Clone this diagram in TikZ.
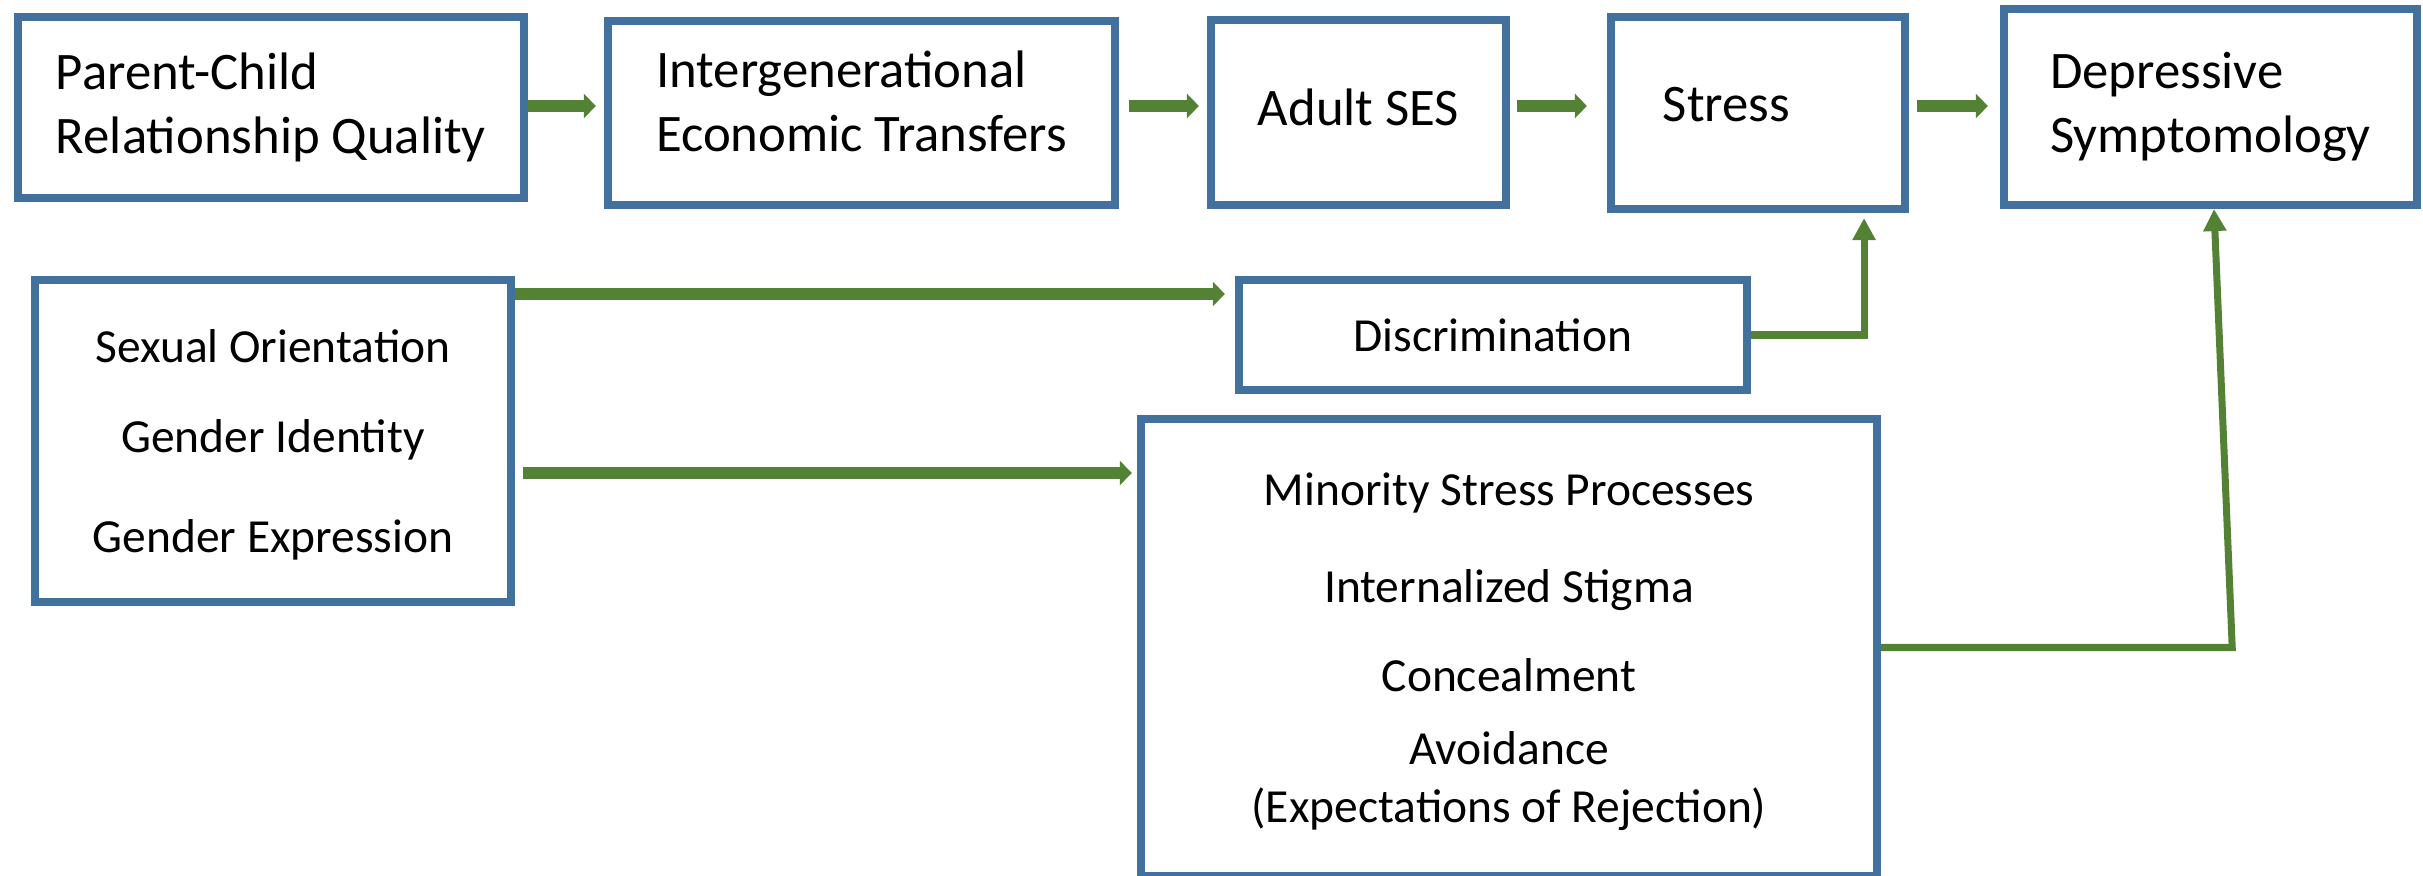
\documentclass[tikz,border=0pt]{standalone}
\usepackage{fontspec}
\setmainfont{Carlito}
\usepackage{tikz}
\usetikzlibrary{arrows.meta}
\definecolor{boxblue}{RGB}{65,113,156}
\definecolor{arrgreen}{RGB}{84,130,53}
\tikzset{
	blk/.style = {draw=boxblue, line width=0.08cm, fill=white, inner sep=3pt},
	blk_top/.style = {blk, align=left, font=\fontsize{15}{18}\selectfont},
	blk_low/.style = {blk, align=center, font=\fontsize{13.5}{16.5}\selectfont},
	arr_main/.style = {draw=arrgreen, line width=0.11cm, -{Triangle[length=0.12cm,width=0.24cm]}},
	arr_side/.style = {draw=arrgreen, line width=0.07cm, -{Triangle[length=0.22cm,width=0.22cm]}}
}

\begin{document}
\begin{tikzpicture}[x=0.01cm, y=-0.01cm]
\useasboundingbox (0,0) rectangle (2423,876);
% top row
\node [blk_top, minimum width=5.06cm, minimum height=1.81cm] (pc) at (271,107.5) {Parent-Child\\Relationship Quality};
\node [blk_top, minimum width=5.07cm, minimum height=1.84cm, text depth=6.8pt] (ie) at (861.5,113) {Intergenerational\\Economic Transfers};
\node [blk_top, minimum width=2.95cm, minimum height=1.85cm, text depth=3pt] (ses) at (1358.5,112.5) {Adult SES};
\node [blk_top, minimum width=2.94cm, minimum height=1.92cm, text width=1.9cm, text depth=5pt] (stress) at (1758,113) {Stress};
\node [blk_top, minimum width=4.13cm, minimum height=1.96cm] (dep) at (2210.5,107) {Depressive\\Symptomology};
% lower part
\node [blk_low, minimum width=4.76cm, minimum height=3.22cm, text depth=-3.5pt] (iden) at (273,441)
	{Sexual Orientation\\[9pt]Gender Identity\\[12pt]Gender Expression};
\node [blk_low, minimum width=5.08cm, minimum height=1.10cm] (disc) at (1493,335) {Discrimination};
\node [blk_low, minimum width=7.36cm, minimum height=4.57cm, text depth=-4.5pt] (msp) at (1509,647.5)
	{Minority Stress Processes\\[11pt]Internalized Stigma\\[9pt]Concealment\\[4pt]Avoidance\\(Expectations of Rejection)};

% connectors
\coordinate (row) at (0,106);
\coordinate (r_disc) at (0,294);
\coordinate (r_msp) at (0,473);
\draw [arr_main, shorten >=0.08cm] (pc.east |- row) -- (ie.west |- row);
\draw [arr_main, shorten <=0.10cm, shorten >=0.08cm] (ie.east |- row) -- (ses.west |- row);
\draw [arr_main, shorten <=0.07cm, shorten >=0.20cm] (ses.east |- row) -- (stress.west |- row);
\draw [arr_main, shorten <=0.08cm, shorten >=0.12cm] (stress.east |- row) -- (dep.west |- row);
\draw [arr_main, shorten >=0.10cm] (iden.east |- r_disc) -- (disc.west |- r_disc);
\draw [arr_main, shorten <=0.08cm, shorten >=0.05cm] (iden.east |- r_msp) -- (msp.west |- r_msp);
\draw [arr_side, shorten >=0.05cm] (disc.east) -| ([xshift=-0.45cm]stress.south east);
\draw [arr_side] (msp.east) -- ++(351,0) -- ([xshift=0.035cm]dep.south);
\end{tikzpicture}
\end{document}
